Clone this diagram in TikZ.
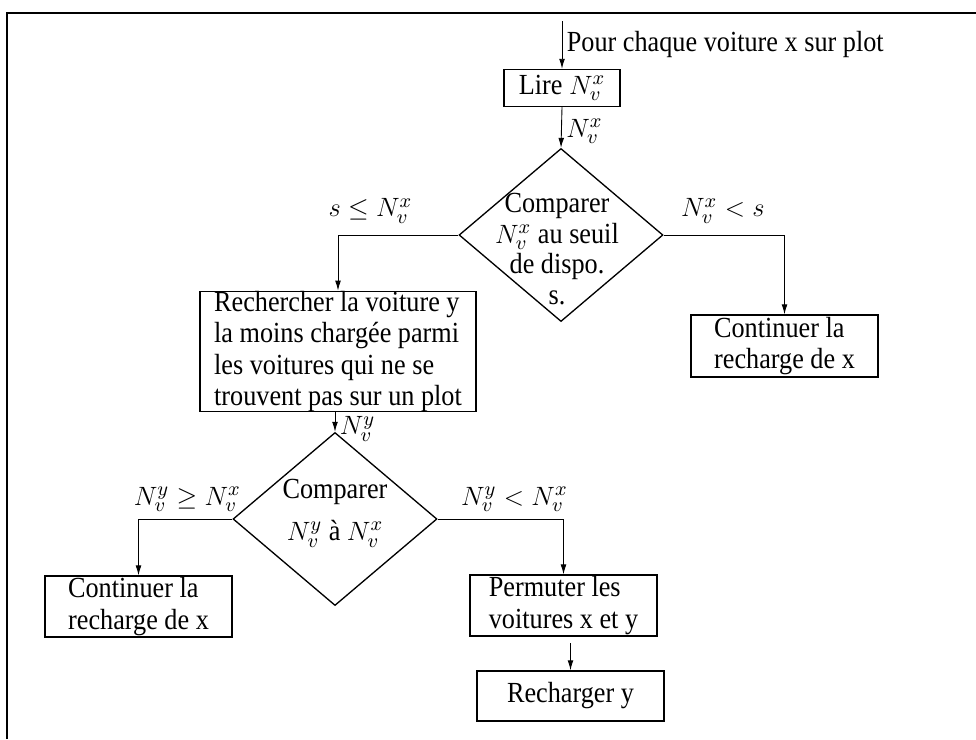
\documentclass[tikz,border=0pt]{standalone}
\usepackage{fontspec}
\setmainfont{Liberation Serif}[FakeStretch=0.9]
\usetikzlibrary{shapes.geometric,arrows.meta}

\begin{document}
\begin{tikzpicture}[x=0.453pt,y=-0.453pt,>={Latex[length=4.5pt,width=2.6pt]},
  font=\fontsize{13.2}{14.2}\selectfont,
  box/.style={draw,line width=0.6pt,inner sep=0pt,align=left,minimum width=84.7pt},
  choice/.style={draw,diamond,line width=0.6pt,minimum width=92.4pt,minimum height=78.4pt,inner sep=0pt},
  lbl/.style={inner sep=2pt}]
\useasboundingbox (0,0) rectangle (976,739);
% cadre
\draw[line width=0.9pt] (7,739) -- (7,13) -- (976,13);
\coordinate (in) at (562,21);
\node[box,minimum width=52.5pt,minimum height=16.8pt] (lire) at (562,88) {Lire $N_v^x$};
\node[choice] (cmp1) at (561,235) {};
\node[align=center,font=\fontsize{13.2}{13.8}\selectfont] (cmp1txt) at (557,249) {Comparer\\$N_v^x$ au seuil\\de dispo.\\s.};
\node[box,minimum width=125pt,minimum height=51.2pt] (search) at (338,351.5) {Rechercher la voiture y\\la moins chargée parmi\\les voitures qui ne se\\trouvent pas sur un plot};
\node[box,minimum height=28.1pt] (cont1) at (784.5,346) {Continuer la\\recharge de x};
\node[choice] (cmp2) at (335,519) {};
\node[align=center] (cmp2txt) at (335,513) {Comparer\\[5pt]$N_v^y$ à $N_v^x$};
\node[box,minimum height=27.6pt] (cont2) at (138.5,606.5) {Continuer la\\recharge de x};
\node[box,minimum height=27.6pt] (perm) at (563.5,605.5) {Permuter les\\voitures x et y};
\node[box,minimum height=22.7pt] (rech) at (570.5,696) {Recharger y};
% liaisons
\draw[->] (in) -- node[lbl,right] (inlbl) {Pour chaque voiture x sur plot} (lire.north);
\draw[->] (lire.south) -- node[lbl,right,pos=0.6] (l1) {$N_v^x$} (cmp1.north);
\draw[->] (cmp1.west) -| node[lbl,above=3pt,pos=0.365] (l2) {$s\leq N_v^x$} (search.north);
\draw[->] (cmp1.east) -| node[lbl,above=3pt,pos=0.245] (l3) {$N_v^x<s$} (cont1.north);
\draw[->] (cmp2.north |- search.south) -- node[lbl,right,pos=0.85] (l4) {$N_v^y$} (cmp2.north);
\draw[->] (cmp2.west) -| node[lbl,above=1pt,pos=0.24] (l5) {$N_v^y\geq N_v^x$} (cont2.north);
\draw[->] (cmp2.east) -| node[lbl,above=1pt,pos=0.305] (l6) {$N_v^y<N_v^x$} (perm.north);
\draw[->] ([yshift=-3pt]perm.south -| rech.north) -- (rech.north);
\end{tikzpicture}
\end{document}
